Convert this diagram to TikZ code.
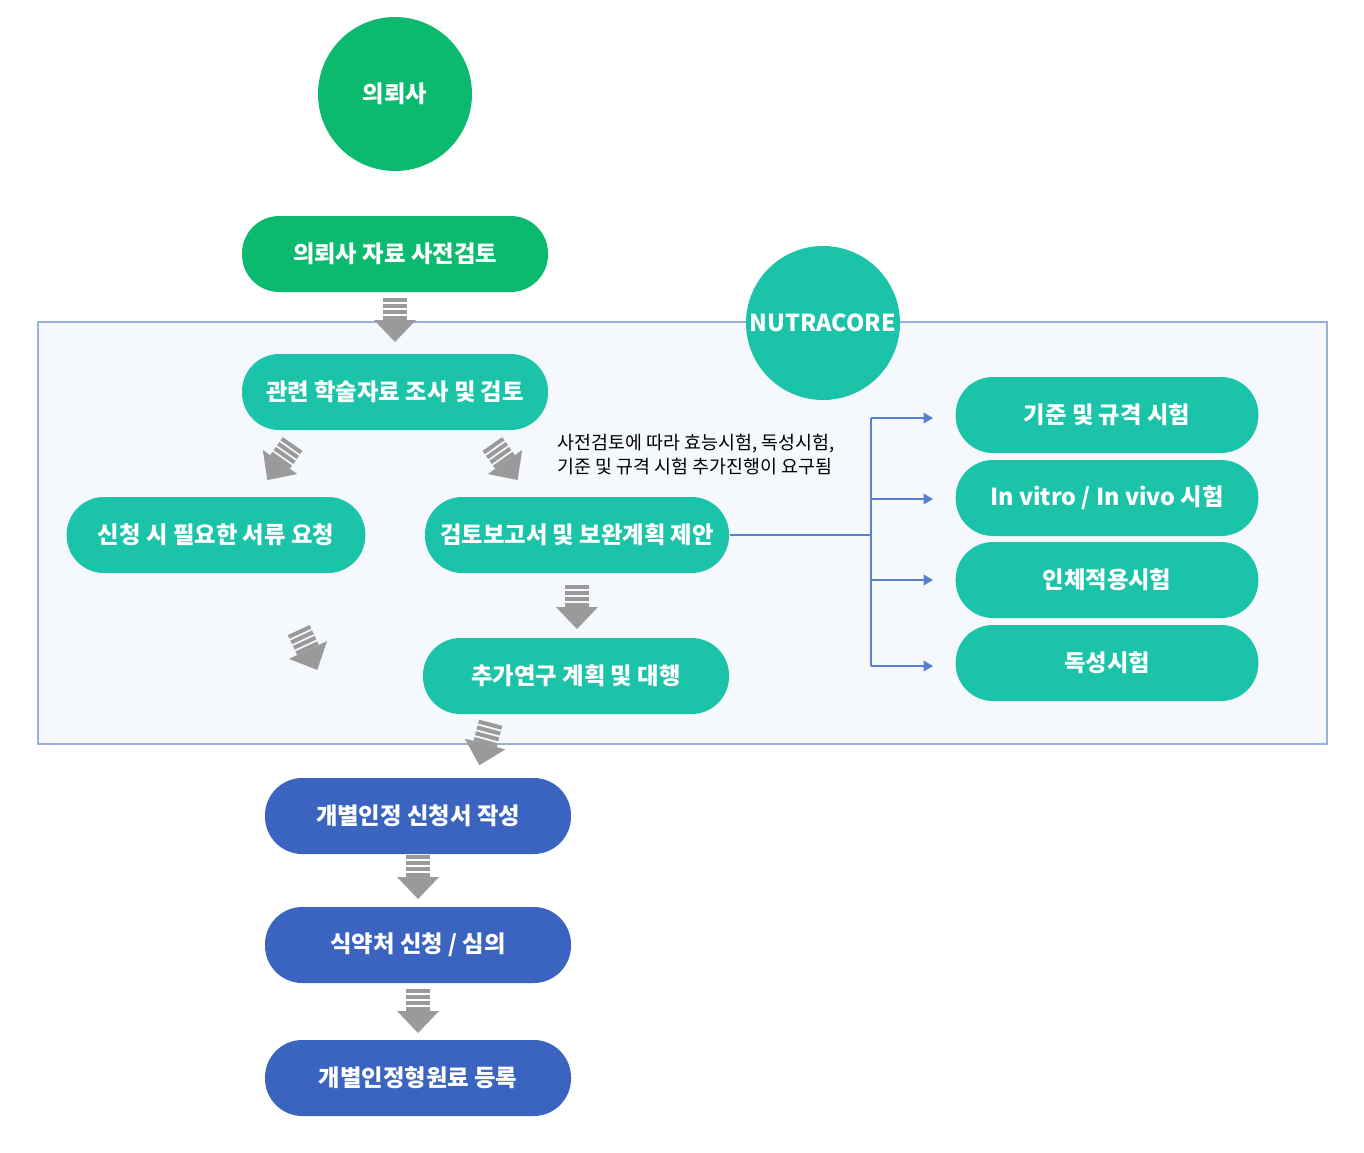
\documentclass[tikz,border=0pt]{standalone}
\usepackage{fontspec}
\setmainfont{Noto Sans CJK KR}
\usetikzlibrary{arrows.meta}
\definecolor{grn}{HTML}{0BBA6E}
\definecolor{teal}{HTML}{1BC3A8}
\definecolor{blu}{HTML}{3A64C0}
\definecolor{lnk}{HTML}{5B80D2}
\definecolor{frm}{HTML}{9AB0DC}
\definecolor{bgc}{HTML}{F5F9FD}
\definecolor{gry}{HTML}{9A9A9A}
\tikzset{every picture/.style={line width=0.75pt}}
\tikzset{
  pill/.style={rounded corners=28pt, minimum width=229.5pt, minimum height=57pt, inner sep=0pt, text=white, font=\fontsize{17.5}{21}\selectfont\bfseries},
  circ/.style={circle, minimum size=115.5pt, inner sep=0pt, text=white, font=\fontsize{17.5}{21}\selectfont\bfseries},
  link/.style={draw=lnk, line width=1pt},
  fat/.pic={
    \foreach \s in {18,12,6,0} \fill[gry] (-12,\s) rectangle (12,\s+4);
    \fill[gry] (-21,0) -- (21,0) -- (0,-22) -- cycle;
  }
}
\begin{document}
\begin{tikzpicture}[x=0.75pt,y=0.75pt,yscale=-1,xscale=1]
\useasboundingbox (0,0) rectangle (1364,1153);

%Frame
\draw[draw=frm, fill=bgc, line width=1pt] (38,322) rectangle (1327,744);

% Circles
\node[circ, fill=grn] (client) at (395,94) {의뢰사};
\node[circ, fill=teal] (nutra) at (823,323) {NUTRACORE};

% Pills
\node[pill, fill=grn] (prerev) at (395,254) {의뢰사 자료 사전검토};
\node[pill, fill=teal] (lit) at (395,392) {관련 학술자료 조사 및 검토};
\node[pill, fill=teal, minimum width=224pt] (docs) at (216,535) {신청 시 필요한 서류 요청};
\node[pill, fill=teal, minimum width=228pt] (report) at (577,535) {검토보고서 및 보완계획 제안};
\node[pill, fill=teal] (extra) at (576,676) {추가연구 계획 및 대행};
\node[pill, fill=teal, minimum width=227pt] (spec) at (1107,415) {기준 및 규격 시험};
\node[pill, fill=teal, minimum width=227pt] (vitro) at (1107,498) {In vitro / In vivo 시험};
\node[pill, fill=teal, minimum width=227pt] (human) at (1107,580) {인체적용시험};
\node[pill, fill=teal, minimum width=227pt] (tox) at (1107,663) {독성시험};
\node[pill, fill=blu] (write) at (418,816) {개별인정 신청서 작성};
\node[pill, fill=blu] (mfds) at (418,945) {식약처 신청 / 심의};
\node[pill, fill=blu] (reg) at (418,1078) {개별인정형원료 등록};

% Note
\node[anchor=west, align=left, font=\fontsize{13.8}{18}\selectfont] (note) at (553,455) {사전검토에 따라 효능시험, 독성시험,\\기준 및 규격 시험 추가진행이 요구됨};

% Connectors
\coordinate (bus) at (871,535);
\draw[link] (report.east) -- (bus);
\draw[link] (871,418) -- (871,666);
\foreach \y in {418,499,580,666}
  \draw[link, -{Triangle[width=8pt,length=7pt]}] (871,\y) -- (933,\y);

% Gray arrows
\pic at (395,320) {fat};
\pic[rotate=-35] at (280,462) {fat};
\pic[rotate=35] at (505,462) {fat};
\pic at (577,607) {fat};
\pic[rotate=25] at (308,650) {fat};
\pic[rotate=-15] at (485,744) {fat};
\pic at (418,877) {fat};
\pic at (418,1011) {fat};

\end{tikzpicture}
\end{document}
